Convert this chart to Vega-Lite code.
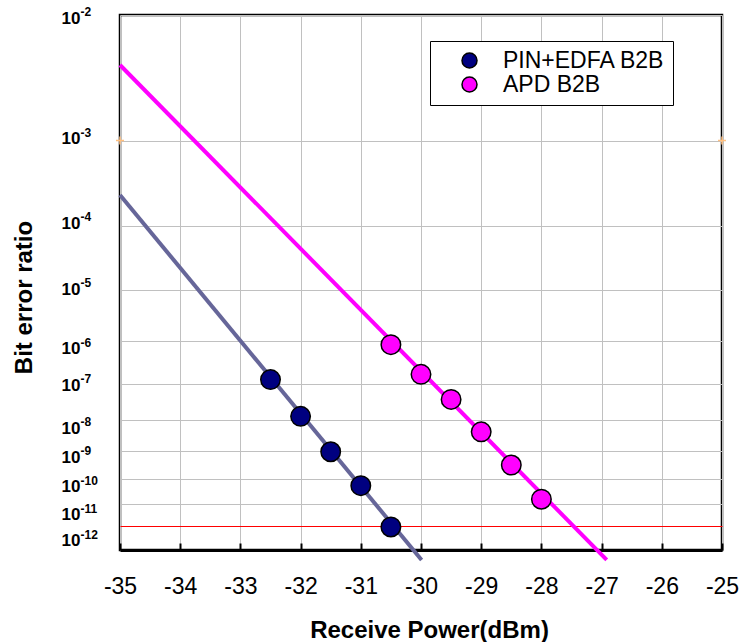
{
  "$schema": "https://vega.github.io/schema/vega-lite/v6.json",
  "width": 602,
  "height": 535,
  "autosize": {"type": "none"},
  "padding": {"left": 120, "top": 15, "right": 20, "bottom": 92},
  "background": "white",
  "config": {
    "view": {"stroke": "black", "strokeWidth": 2.5},
    "font": "Liberation Sans"
  },
  "datasets": {
    "points": [
      {"series": "PIN+EDFA B2B", "power": -32.5, "exp": 6.89},
      {"series": "PIN+EDFA B2B", "power": -32.0, "exp": 7.89},
      {"series": "PIN+EDFA B2B", "power": -31.5, "exp": 9.01},
      {"series": "PIN+EDFA B2B", "power": -31.0, "exp": 10.25},
      {"series": "PIN+EDFA B2B", "power": -30.5, "exp": 12.03},
      {"series": "APD B2B", "power": -30.5, "exp": 6.07},
      {"series": "APD B2B", "power": -30.0, "exp": 6.76},
      {"series": "APD B2B", "power": -29.5, "exp": 7.41},
      {"series": "APD B2B", "power": -29.0, "exp": 8.36},
      {"series": "APD B2B", "power": -28.5, "exp": 9.475},
      {"series": "APD B2B", "power": -28.0, "exp": 10.8}
    ],
    "fits": [
      {"fit": "PIN+EDFA fit", "power": -35.0, "exp": 3.60},
      {"fit": "PIN+EDFA fit", "power": -29.99, "exp": 13.70},
      {"fit": "APD fit", "power": -35.0, "exp": 2.345},
      {"fit": "APD fit", "power": -26.915, "exp": 13.70}
    ],
    "fec": [
      {"power": -35, "exp": 3},
      {"power": -25, "exp": 3}
    ]
  },
  "encoding": {
    "x": {
      "field": "power",
      "type": "quantitative",
      "scale": {"domain": [-35, -25], "nice": false, "zero": false},
      "axis": {
        "values": [-35, -34, -33, -32, -31, -30, -29, -28, -27, -26, -25],
        "labelExpr": "'' + datum.value",
        "title": "Receive Power(dBm)",
        "titleFontSize": 24,
        "titleFontWeight": "bold",
        "titleColor": "black",
        "titleX": 309,
        "titleY": 87,
        "titleAlign": "center",
        "titleBaseline": "alphabetic",
        "labelFontSize": 23,
        "labelColor": "black",
        "labelBaseline": "alphabetic",
        "labelPadding": 50,
        "tickSize": -7,
        "tickWidth": 2,
        "tickColor": "black",
        "domain": true,
        "domainColor": "black",
        "domainWidth": 3,
        "grid": true,
        "gridColor": "#C0C0C0",
        "gridWidth": 1,
        "labelFlush": false,
        "labelOverlap": false
      }
    }
  },
  "layer": [
    {
      "data": {"name": "fits"},
      "mark": {"type": "line", "strokeWidth": 4, "clip": false},
      "encoding": {
        "y": {
          "field": "exp",
          "type": "quantitative",
          "scale": {"type": "pow", "exponent": -0.12, "domain": [2, 13.17], "reverse": true, "nice": false, "zero": false},
          "axis": {
            "orient": "left",
            "values": [2, 3, 4, 5, 6, 7, 8, 9, 10, 11, 12],
            "title": "Bit error ratio",
            "titleFontSize": 24,
            "titleFontWeight": "bold",
            "titleColor": "black",
            "titleAngle": 270,
            "titleX": -96,
            "titleY": 282,
            "titleAlign": "center",
            "titleBaseline": "middle",
            "labelExpr": "'10'",
            "labelFontSize": 17,
            "labelFontWeight": "bold",
            "labelColor": "black",
            "labelAlign": "right",
            "labelBaseline": "middle",
            "labelPadding": 40,
            "ticks": false,
            "domain": false,
            "grid": true,
            "gridColor": {"condition": {"test": "datum.value === 12", "value": "#FF0000"}, "value": "#C0C0C0"},
            "gridWidth": 1,
            "labelOverlap": false,
            "labelFlush": false,
            "labelOffset": {"expr": "datum.value==2?3:datum.value==3?-2:datum.value==4?-2.5:datum.value==5?-1:datum.value==6?7.5:datum.value==7?1.5:datum.value==8?8:datum.value==9?6:datum.value==10?7.5:datum.value==11?11:14.5"}
          }
        },
        "stroke": {
          "field": "fit",
          "type": "nominal",
          "scale": {"domain": ["PIN+EDFA fit", "APD fit"], "range": ["#666699", "#FF00FF"]},
          "legend": null
        }
      }
    },
    {
      "data": {"name": "fec"},
      "mark": {"type": "point", "shape": "M-1,0H1M0,-1V1", "size": 64, "filled": false, "color": "#FFC080", "strokeWidth": 1.5, "opacity": 1, "clip": false},
      "encoding": {
        "y": {
          "field": "exp",
          "type": "quantitative",
          "axis": {
            "orient": "left",
            "values": [2, 3, 4, 5, 6, 7, 8, 9, 10, 11, 12],
            "title": null,
            "labelExpr": "'-' + datum.value",
            "labelFontSize": 12,
            "labelFontWeight": "bold",
            "labelColor": "black",
            "labelAlign": "left",
            "labelBaseline": "middle",
            "labelPadding": 40,
            "ticks": false,
            "domain": false,
            "grid": false,
            "labelOverlap": false,
            "labelFlush": false,
            "labelOffset": {"expr": "(datum.value==2?3:datum.value==3?-2:datum.value==4?-2.5:datum.value==5?-1:datum.value==6?7.5:datum.value==7?1.5:datum.value==8?8:datum.value==9?6:datum.value==10?7.5:datum.value==11?11:14.5) - 6.5"}
          }
        }
      }
    },
    {
      "data": {"name": "points"},
      "mark": {"type": "circle", "size": 380, "stroke": "black", "strokeWidth": 1.5, "opacity": 1, "clip": false},
      "encoding": {
        "y": {"field": "exp", "type": "quantitative", "axis": null},
        "color": {
          "field": "series",
          "type": "nominal",
          "scale": {"domain": ["PIN+EDFA B2B", "APD B2B"], "range": ["#000080", "#FF00FF"]},
          "legend": {
            "orient": "none",
            "legendX": 310,
            "legendY": 26,
            "title": null,
            "padding": 8,
            "strokeColor": "black",
            "fillColor": "white",
            "symbolType": "circle",
            "symbolSize": 225,
            "symbolStrokeColor": "black",
            "symbolStrokeWidth": 1.5,
            "symbolOffset": 20,
            "labelOffset": 22,
            "labelFontSize": 23,
            "labelColor": "black",
            "labelLimit": 400,
            "rowPadding": 0
          }
        }
      }
    }
  ],
  "resolve": {"axis": {"y": "independent"}}
}
